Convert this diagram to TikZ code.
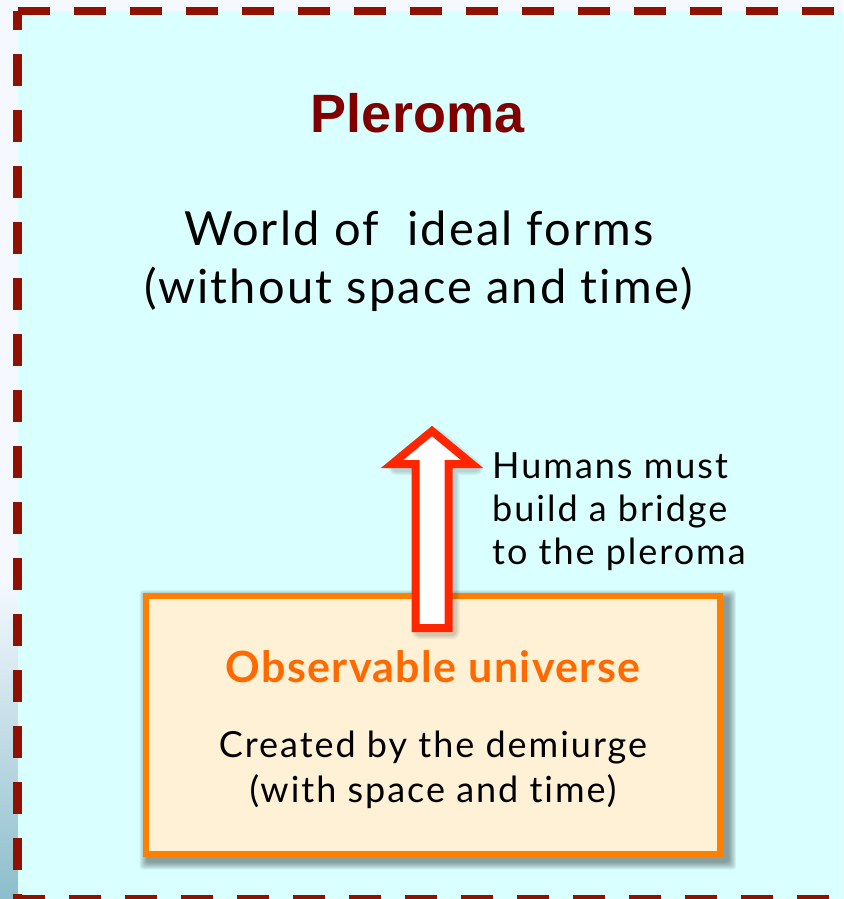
\documentclass[tikz,border=0pt]{standalone}
\usepackage{fontspec}
\newfontfamily\bodyfont[LetterSpace=5.5,Ligatures=NoCommon]{Lato}
\newfontfamily\bigbodyfont[LetterSpace=4.6,Ligatures=NoCommon]{Lato}
\newfontfamily\obsfont[LetterSpace=3.2,Ligatures=NoCommon]{Lato}
\newfontfamily\titlefont{Liberation Sans}
\definecolor{pagebg}{RGB}{245,249,255}
\definecolor{stripbot}{RGB}{140,190,203}
\definecolor{cyanbg}{RGB}{217,255,255}
\definecolor{borderred}{RGB}{145,17,0}
\definecolor{titlered}{RGB}{128,0,0}
\definecolor{boxorange}{RGB}{255,128,0}
\definecolor{boxfill}{RGB}{255,241,213}
\definecolor{obsorange}{RGB}{255,106,0}
\definecolor{arrowred}{RGB}{255,38,0}
\tikzset{
  borderline/.style={draw=borderred, line width=8.5pt, dash pattern=on 32pt off 24pt},
  bodytext/.style={text=black, inner sep=0pt, font=\bigbodyfont\fontsize{47}{58}\selectfont},
  sidetext/.style={text=black, inner sep=0pt, align=left, font=\bodyfont\fontsize{36}{43}\selectfont},
  boxtext/.style={text=black, inner sep=0pt, align=center, font=\bodyfont\fontsize{36}{45}\selectfont},
  universebox/.style={draw=boxorange, fill=boxfill, line width=6pt, inner sep=0pt},
  blockarrow/.style={draw=arrowred, fill=white, line width=8pt, line join=miter},
}
\begin{document}
\begin{tikzpicture}[x=1pt,y=-1pt]
\useasboundingbox (0,0) rectangle (843,899);
% page background
\fill[pagebg] (0,0) rectangle (843,899);
\shade[top color=pagebg, bottom color=stripbot] (0,580) rectangle (17.5,899);
% pleroma area
\fill[cyanbg] (17.5,11.2) rectangle (843,899);
\draw[borderline] (17.5,11.2) -- (843,11.2);
\draw[borderline, dash phase=13pt] (17.5,11.2) -- (17.5,899);
\draw[borderline] (13.3,899) -- (843,899);
% texts of the pleroma
\node[anchor=base, inner sep=0pt, text=titlered, font=\titlefont\bfseries\fontsize{54}{60}\selectfont] (pleroma) at (417.5,132) {Pleroma};
\node[bodytext, anchor=base] (world1) at (419,245) {World of\ \ ideal forms};
\node[bodytext, anchor=base] (world2) at (418.5,303) {(without space and time)};
% shadow of the box
\foreach \k in {0,...,7}{
  \fill[black, fill opacity=0.055, rounded corners=3pt]
    (142.5+5-8+\k, 593+5-8+\k) rectangle (723+5+8-\k, 856.5+5+8-\k);
}
% observable universe box
\node[universebox, minimum width=574.5pt, minimum height=257.5pt] (universe) at (432.75,724.75) {};
\node[anchor=base, inner sep=0pt, text=obsorange, font=\obsfont\bfseries\fontsize{43}{50}\selectfont] (obs) at (433,682) {Observable universe};
\node[boxtext, anchor=base] (created) at (433,802) {Created by the demiurge\\(with space and time)};
% block arrow: from the box up to the pleroma
\coordinate (abase) at (432,628);
\def\arrowpath{(432,431) -- (472,464) -- (448.5,464) -- (448.5,628) -- (415.5,628) -- (415.5,464) -- (392,464) -- cycle}
\foreach \w in {14,11,8}{
  \draw[black, opacity=0.06, line width=\w pt, line join=round, shift={(4,4)}] \arrowpath;
}
\path[blockarrow] \arrowpath;
\node[sidetext, anchor=base west] (humans) at (492,564) {Humans must\\build a bridge\\to the pleroma};
\end{tikzpicture}
\end{document}
